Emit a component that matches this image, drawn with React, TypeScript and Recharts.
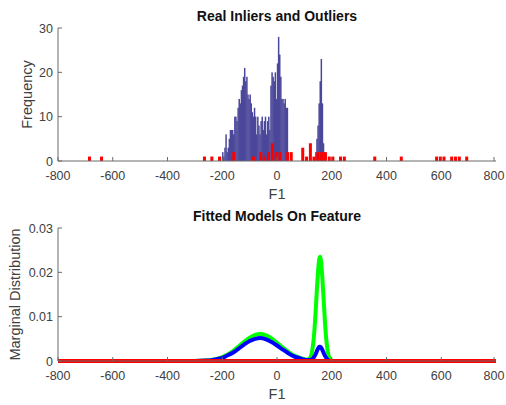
import { ComposedChart, LineChart, Bar, Line, XAxis, YAxis, Label } from "recharts";

const C = {
  axis: "#6b6b6b",
  text: "#404040",
  inlier: "#4b479a",
  outlier: "#ff0000",
  green: "#00ff00",
  blue: "#0000ff",
  red: "#ff0000",
  font: "'Liberation Sans', Arial, Helvetica, sans-serif",
} as const;

const xTicks = [-800, -600, -400, -200, 0, 200, 400, 600, 800];
const freqTicks = [0, 10, 20, 30];
const densTicks = [0, 0.01, 0.02, 0.03];

// inlier histogram (bin centres / counts)
const inlierX = [
  -198, -194, -190, -186, -182, -178, -174, -170, -166, -162, -158, -154, -150, -146, -142,
  -138, -134, -130, -126, -122, -118, -114, -110, -106, -102, -98, -94, -90, -86, -82,
  -78, -74, -70, -66, -62, -58, -54, -50, -46, -42, -38, -34, -30, -26, -22,
  -18, -14, -10, -6, -2, 2, 6, 10, 14, 18, 22, 26, 30, 34, 38,
  142, 146, 150, 154, 158, 162, 166, 170, 174,
];
const inlierCount = [
  2, 1, 3, 6, 2, 3, 5, 7, 7, 7, 6, 10, 10, 9, 12,
  14, 13, 16, 17, 19, 21, 18, 19, 15, 14, 15, 13, 11, 10, 12,
  10, 6, 10, 8, 6, 9, 10, 7, 9, 10, 6, 9, 10, 7, 17,
  20, 19, 18, 20, 14, 22, 28, 24, 19, 14, 14, 13, 14, 12, 12,
  2, 5, 8, 13, 18, 23, 13, 4, 2,
];

// outlier histogram
const outlierX = [
  -685, -641, -265, -238, -210, -158, -86, -59, -45, -31, -17, -3, 11, 39, 52,
  94, 108, 122, 135, 149, 163, 177, 191, 204, 232, 246, 357, 454, 583, 597,
  610, 638, 652, 666, 693,
];
const outlierCount = [
  1, 1, 1, 1, 1, 2, 1, 2, 1, 2, 4, 2, 2, 2, 2,
  3, 1, 4, 1, 2, 2, 2, 1, 1, 1, 1, 1, 1, 1, 1,
  1, 1, 1, 1, 1,
];

// fitted densities
const greenX = [
  -800, -300, -280, -260, -240, -220, -200, -180, -160, -140, -120, -100, -80, -62, -40,
  -20, 0, 20, 40, 60, 80, 100, 110, 115, 120, 125, 130, 135, 140, 145,
  150, 155, 157, 160, 165, 170, 175, 180, 185, 190, 195, 200, 210, 800,
];
const greenY = [
  0, 0.00002, 0.00005, 0.0001, 0.00024, 0.00048, 0.00087, 0.00147, 0.00229, 0.00328, 0.00433, 0.00526, 0.0059, 0.0061, 0.0058,
  0.0051, 0.0041, 0.0031, 0.0021, 0.0013, 0.0008, 0.0004, 0.0003, 0.0004, 0.0006, 0.0013, 0.0029, 0.0056, 0.01, 0.0153,
  0.0203, 0.0232, 0.0235, 0.0229, 0.0194, 0.0143, 0.009, 0.0049, 0.0023, 0.0009, 0.0003, 0.0001, 0, 0,
];
const blueX = [
  -800, -300, -260, -240, -220, -200, -180, -160, -140, -120, -100, -80, -62, -40, -20,
  0, 20, 40, 60, 80, 100, 120, 125, 130, 135, 140, 145, 150, 155, 157,
  160, 165, 170, 175, 180, 185, 190, 200, 800,
];
const blueY = [
  0, 0, 0.0001, 0.0002, 0.0004, 0.0007, 0.0013, 0.0019, 0.0028, 0.0037, 0.0045, 0.005, 0.0052, 0.0049, 0.0043,
  0.0035, 0.0026, 0.0018, 0.0011, 0.0007, 0.0003, 0.0002, 0.0003, 0.0005, 0.0009, 0.0014, 0.0021, 0.0028, 0.0032, 0.0032,
  0.0031, 0.0026, 0.0019, 0.0012, 0.0007, 0.0003, 0.0001, 0, 0,
];
const redX = [-800, 800];
const redY = [0, 0];

const histData = [
  ...inlierX.map((x, i) => ({ x, inl: inlierCount[i] })),
  ...outlierX.map((x, i) => ({ x, out: outlierCount[i] })),
].sort((a, b) => a.x - b.x);

const toPts = (xs: number[], ys: number[]) => xs.map((x, i) => ({ x, y: ys[i] }));
const greenPts = toPts(greenX, greenY);
const bluePts = toPts(blueX, blueY);
const redPts = toPts(redX, redY);

// fixed-width bar drawn around the centre recharts computed
const barShape = (w: number, fill: string) => (p: any) => {
  if (!p.height || p.height <= 0) return <g />;
  return <rect x={p.x + p.width / 2 - w / 2} y={p.y} width={w} height={p.height} fill={fill} />;
};

function XTick({ x, y, payload }: any) {
  return (
    <g>
      <line x1={x} x2={x} y1={y} y2={y - 4} stroke={C.axis} />
      <text x={x} y={y + 18.5} textAnchor="middle" fill={C.text} fontSize={12.5} fontFamily={C.font}>
        {payload.value}
      </text>
    </g>
  );
}

function YTick({ x, y, payload, dens }: any) {
  const v = payload.value as number;
  const lbl = dens ? (v === 0 ? "0" : v.toFixed(2)) : String(v);
  return (
    <g>
      <line x1={x} x2={x + 4} y1={y} y2={y} stroke={C.axis} />
      <text x={x - 5} y={y + 4.5} textAnchor="end" fill={C.text} fontSize={12.5} fontFamily={C.font}>
        {lbl}
      </text>
    </g>
  );
}

const titleStyle = (top: number): React.CSSProperties => ({
  position: "absolute", left: 58, width: 438, top, textAlign: "center",
  fontFamily: C.font, fontWeight: "bold", fontSize: 14, color: "#111", lineHeight: "16px",
});

const axisLblProps = { fill: C.text, fontSize: 14.5, fontFamily: C.font };

export default function App() {
  return (
    <div style={{ position: "absolute", left: 0, top: 0, width: 506, height: 405, background: "#fff" }}>
      <div style={titleStyle(8)}>Real Inliers and Outliers</div>
      <div style={{ position: "absolute", left: 0, top: 0 }}>
        <ComposedChart width={506} height={210} data={histData} margin={{ top: 28, right: 10, left: 8, bottom: 19 }}>
          <XAxis
            xAxisId="a" dataKey="x" type="number" domain={[-800, 800]} ticks={xTicks}
            allowDataOverflow tick={<XTick />} tickSize={0} tickMargin={0} tickLine={false}
            axisLine={{ stroke: C.axis }} height={30}
          >
            <Label value="F1" position="center" dy={18} {...axisLblProps} />
          </XAxis>
          <XAxis xAxisId="b" dataKey="x" type="number" domain={[-800, 800]} hide />
          <YAxis
            domain={[0, 30]} ticks={freqTicks} tick={<YTick />} tickSize={0} tickMargin={0}
            tickLine={false} axisLine={{ stroke: C.axis }} width={50}
          >
            <Label value="Frequency" angle={-90} position="center" dx={-6} {...axisLblProps} />
          </YAxis>
          <Bar xAxisId="a" dataKey="inl" shape={barShape(1.5, C.inlier)} isAnimationActive={false} />
          <Bar xAxisId="b" dataKey="out" shape={barShape(3, C.outlier)} isAnimationActive={false} />
        </ComposedChart>
      </div>

      <div style={titleStyle(208)}>Fitted Models On Feature</div>
      <div style={{ position: "absolute", left: 0, top: 200 }}>
        <LineChart width={506} height={205} margin={{ top: 28, right: 10, left: 8, bottom: 14 }}>
          <XAxis
            dataKey="x" type="number" domain={[-800, 800]} ticks={xTicks}
            tick={<XTick />} tickSize={0} tickMargin={0} tickLine={false}
            axisLine={{ stroke: C.axis }} height={30}
          >
            <Label value="F1" position="center" dy={18} {...axisLblProps} />
          </XAxis>
          <YAxis
            domain={[0, 0.03]} ticks={densTicks} tick={<YTick dens />} tickSize={0} tickMargin={0}
            tickLine={false} axisLine={{ stroke: C.axis }} width={50}
          >
            <Label value="Marginal Distribution" angle={-90} position="center" dx={-18} {...axisLblProps} />
          </YAxis>
          <Line data={greenPts} dataKey="y" type="monotone" stroke={C.green} strokeWidth={4} dot={false} activeDot={false} isAnimationActive={false} />
          <Line data={bluePts} dataKey="y" type="monotone" stroke={C.blue} strokeWidth={4} dot={false} activeDot={false} isAnimationActive={false} />
          <Line data={redPts} dataKey="y" type="linear" stroke={C.red} strokeWidth={4} dot={false} activeDot={false} isAnimationActive={false} />
        </LineChart>
      </div>
    </div>
  );
}
